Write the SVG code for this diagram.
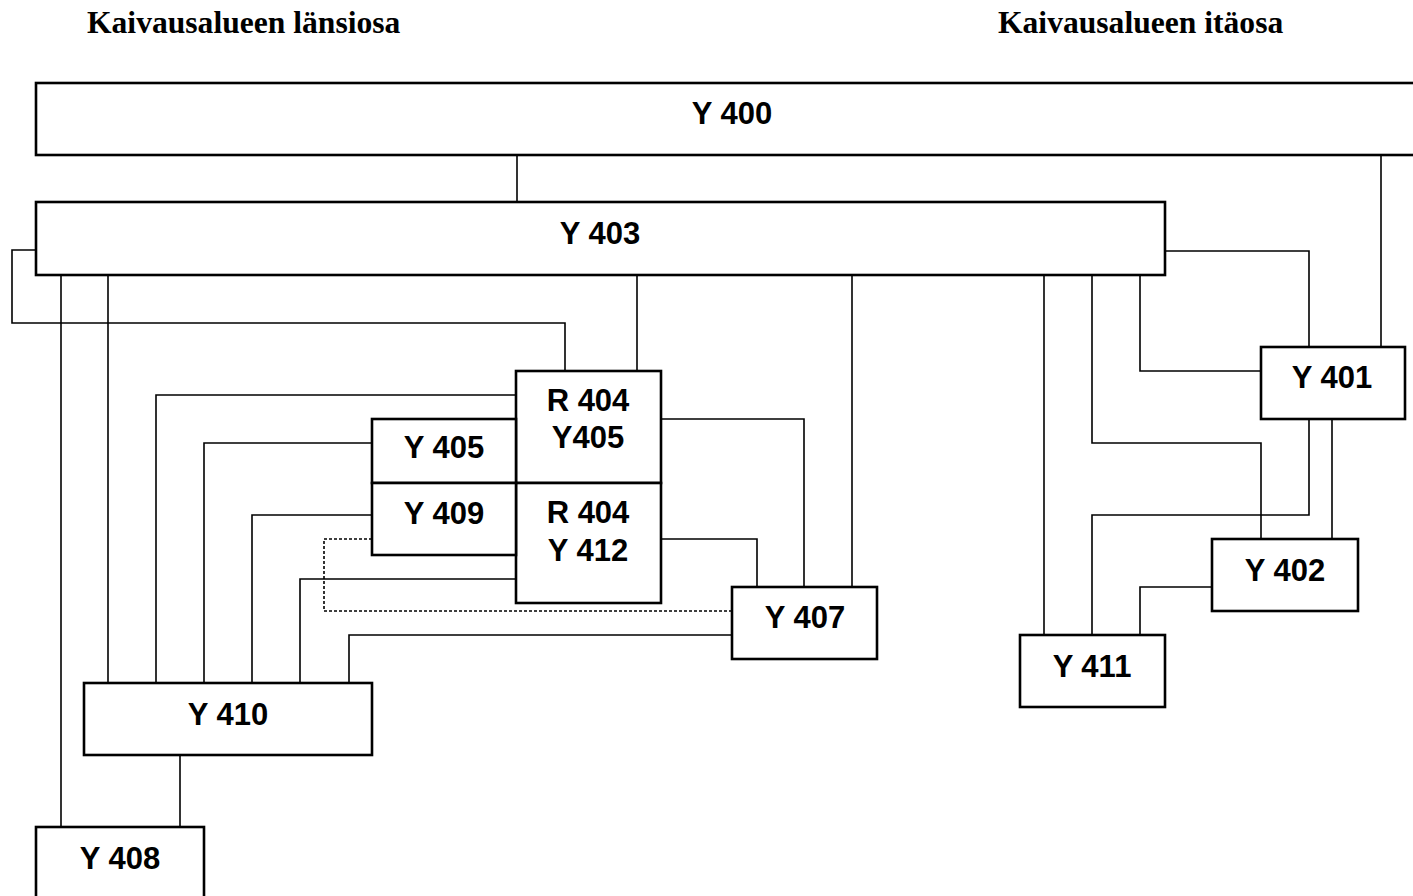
<svg xmlns="http://www.w3.org/2000/svg" width="1413" height="896" viewBox="0 0 1413 896">
<style>
.box{fill:#fff;stroke:#000;stroke-width:2.6}
.lbl{font-family:"Liberation Sans",Arial,sans-serif;font-weight:bold;font-size:31px;text-anchor:middle;fill:#000}
.ttl{font-family:"Liberation Serif","Times New Roman",serif;font-weight:bold;font-size:31.6px;fill:#000}
.c{fill:none;stroke:#000;stroke-width:1.6}
.d{fill:none;stroke:#000;stroke-width:1.6;stroke-dasharray:3 2}
</style>
<rect width="1413" height="896" fill="#fff"/>
<text class="ttl" x="87" y="33">Kaivausalueen länsiosa</text>
<text class="ttl" x="998" y="33">Kaivausalueen itäosa</text>
<g id="connectors">
<path class="c" d="M517 155V202"/>
<path class="c" d="M1381 155V347"/>
<path class="c" d="M1165 251H1309V347"/>
<path class="c" d="M36 250H12V323H565V371"/>
<path class="c" d="M61 275V827"/>
<path class="c" d="M108 275V683"/>
<path class="c" d="M637 275V371"/>
<path class="c" d="M852 275V587"/>
<path class="c" d="M1044 275V635"/>
<path class="c" d="M1092 275V443H1261V539"/>
<path class="c" d="M1140 275V371H1261"/>
<path class="c" d="M1309 419V515H1092V635"/>
<path class="c" d="M1332 419V539"/>
<path class="c" d="M1212 587H1140V635"/>
<path class="c" d="M516 395H156V683"/>
<path class="c" d="M372 443H204V683"/>
<path class="c" d="M372 515H252V683"/>
<path class="d" d="M372 539H324V611H732"/>
<path class="c" d="M516 579H300V683"/>
<path class="c" d="M732 635H349V683"/>
<path class="c" d="M661 419H804V587"/>
<path class="c" d="M661 539H757V587"/>
<path class="c" d="M180 755V827"/>
</g>
<g id="Y400"><rect class="box" x="36" y="83" width="1400" height="72"/><text class="lbl" x="732" y="124">Y 400</text></g>
<g id="Y403"><rect class="box" x="36" y="202" width="1129" height="73"/><text class="lbl" x="600" y="244">Y 403</text></g>
<g id="Y401"><rect class="box" x="1261" y="347" width="144" height="72"/><text class="lbl" x="1332" y="388">Y 401</text></g>
<g id="R404Y405"><rect class="box" x="516" y="371" width="145" height="112"/><text class="lbl" x="588" y="411">R 404</text><text class="lbl" x="588" y="448">Y405</text></g>
<g id="R404Y412"><rect class="box" x="516" y="483" width="145" height="120"/><text class="lbl" x="588" y="523">R 404</text><text class="lbl" x="588" y="561">Y 412</text></g>
<g id="Y405"><rect class="box" x="372" y="419" width="144" height="64"/><text class="lbl" x="444" y="458">Y 405</text></g>
<g id="Y409"><rect class="box" x="372" y="483" width="144" height="72"/><text class="lbl" x="444" y="524">Y 409</text></g>
<g id="Y407"><rect class="box" x="732" y="587" width="145" height="72"/><text class="lbl" x="805" y="628">Y 407</text></g>
<g id="Y402"><rect class="box" x="1212" y="539" width="146" height="72"/><text class="lbl" x="1285" y="581">Y 402</text></g>
<g id="Y411"><rect class="box" x="1020" y="635" width="145" height="72"/><text class="lbl" x="1092" y="677">Y 411</text></g>
<g id="Y410"><rect class="box" x="84" y="683" width="288" height="72"/><text class="lbl" x="228" y="725">Y 410</text></g>
<g id="Y408"><rect class="box" x="36" y="827" width="168" height="80"/><text class="lbl" x="120" y="869">Y 408</text></g>
</svg>
